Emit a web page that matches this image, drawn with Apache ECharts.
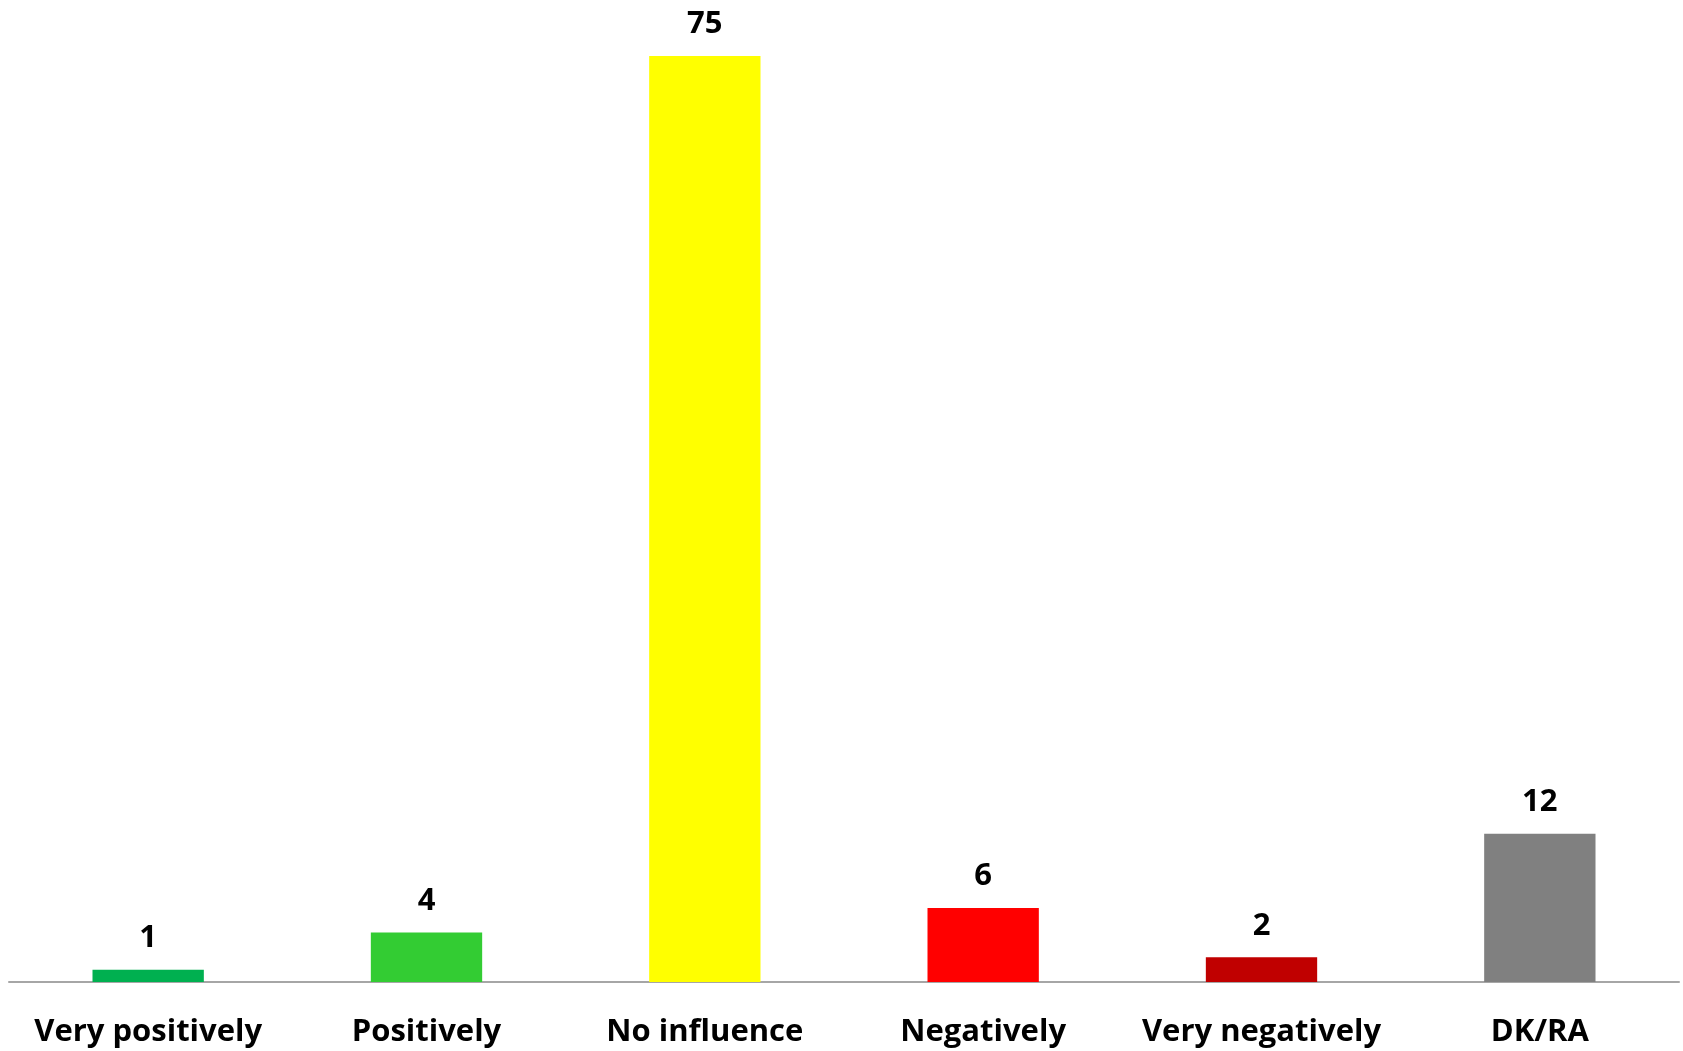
<!DOCTYPE html>
<html>
<head>
<meta charset="utf-8">
<script src="https://cdn.jsdelivr.net/npm/echarts@6/dist/echarts.min.js"></script>
<style>
  html, body { margin: 0; padding: 0; background: #fff; }
  #chart { width: 1683px; height: 1051px; }
</style>
</head>
<body>
<div id="chart"></div>
<script>
const categories = ['Very positively', 'Positively', 'No influence', 'Negatively', 'Very negatively', 'DK/RA']
const values = [1, 4, 75, 6, 2, 12]
const barColors = ['#00B050', '#33CC33', '#FFFF00', '#FF0000', '#C00000', '#808080']

const chart = echarts.init(document.getElementById('chart'))
chart.setOption({
  animation: false,
  grid: { left: 9, right: 4, top: 56, bottom: 69 },
  xAxis: {
    type: 'category',
    data: categories,
    axisLine: { lineStyle: { color: '#A6A6A6', width: 2 } },
    axisTick: { show: false },
    axisLabel: {
      color: '#000',
      fontFamily: 'Open Sans',
      fontWeight: 'bold',
      fontSize: 31,
      margin: 35,
      interval: 0
    }
  },
  yAxis: {
    type: 'value',
    min: 0,
    max: 75,
    show: false
  },
  series: [{
    type: 'bar',
    barWidth: '40%',
    data: values.map((v, i) => ({ value: v, itemStyle: { color: barColors[i] } })),
    label: {
      show: true,
      position: 'top',
      distance: 16,
      color: '#000',
      fontFamily: 'Open Sans',
      fontWeight: 'bold',
      fontSize: 31
    }
  }]
})
</script>
</body>
</html>
